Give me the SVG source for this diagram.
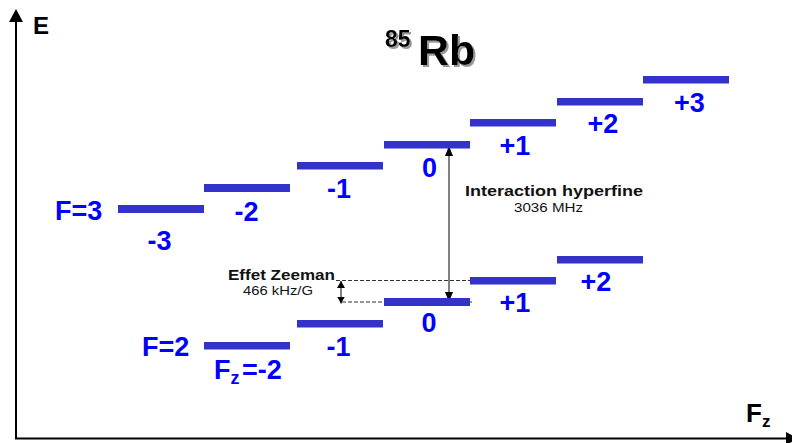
<svg xmlns="http://www.w3.org/2000/svg" width="792" height="443" viewBox="0 0 792 443">
<style>
text{font-family:"Liberation Sans",Arial,sans-serif}
.lvl{fill:#3333CC}
.lab{fill:#0000FF;font-weight:bold;font-size:27px;text-anchor:middle}
.labs{fill:#0000FF;font-weight:bold;font-size:27px}
.ax{stroke:#000;stroke-width:2;fill:none}
.thin{stroke:#000;stroke-width:1;fill:none}
.dash{stroke:#333;stroke-width:1;stroke-dasharray:4 2;fill:none}
.blk{fill:#000}
</style>
<defs>
<filter id="shadow" x="-10%" y="-10%" width="130%" height="130%">
<feDropShadow dx="2" dy="2" stdDeviation="0.6" flood-color="#999" flood-opacity="1"/>
</filter>
<marker id="ah" markerUnits="userSpaceOnUse" markerWidth="10" markerHeight="10" viewBox="0 0 10 10" refX="10" refY="5" orient="auto-start-reverse">
<path d="M0,1 L10,5 L0,9 Z" fill="#000"/>
</marker>
<marker id="ahs" markerUnits="userSpaceOnUse" markerWidth="7" markerHeight="8" viewBox="0 0 7 8" refX="7" refY="4" orient="auto-start-reverse">
<path d="M0,0 L7,4 L0,8 Z" fill="#000"/>
</marker>
</defs>
<rect width="792" height="443" fill="#fff"/>

<g id="axes">
<line class="ax" x1="16" y1="20" x2="16" y2="439"/>
<polygon class="blk" points="9,22 16,9 23,22"/>
<line class="ax" x1="15" y1="438.5" x2="790" y2="438.5"/>
<polygon class="blk" points="786,432 798,438.5 786,445"/>
<text x="33" y="34" font-size="24" font-weight="bold" fill="#000">E</text>
<text x="746" y="422" font-size="26" font-weight="bold" fill="#000">F<tspan font-size="17" dy="5">z</tspan></text>
</g>

<g id="title" filter="url(#shadow)">
<text x="385" y="65" font-weight="bold" fill="#000"><tspan font-size="23" dy="-18">85</tspan><tspan x="418" dy="18" font-size="43">Rb</tspan></text>
</g>

<g id="connectors">
<line class="dash" x1="336" y1="280.5" x2="470" y2="280.5"/>
<line class="dash" x1="342" y1="302" x2="472" y2="302"/>
<line class="thin" x1="449" y1="146" x2="449" y2="302" marker-start="url(#ah)" marker-end="url(#ah)"/>
<line class="thin" x1="341" y1="281" x2="341" y2="303.5" marker-start="url(#ahs)" marker-end="url(#ahs)"/>
</g>

<g id="F3">
<text class="labs" x="55" y="220">F=3</text>
<g id="F3m-3"><rect class="lvl" x="118" y="205" width="86" height="8"/><text class="lab" x="159.5" y="250">-3</text></g>
<g id="F3m-2"><rect class="lvl" x="204" y="184" width="86" height="8"/><text class="lab" x="246.5" y="221">-2</text></g>
<g id="F3m-1"><rect class="lvl" x="297" y="162" width="86" height="7.5"/><text class="lab" x="339" y="198">-1</text></g>
<g id="F3m0"><rect class="lvl" x="384" y="141" width="86" height="7.5"/><text class="lab" x="429.5" y="177">0</text></g>
<g id="F3m1"><rect class="lvl" x="470" y="119" width="86" height="7.5"/><text class="lab" x="515" y="155">+1</text></g>
<g id="F3m2"><rect class="lvl" x="557" y="98" width="86" height="7.5"/><text class="lab" x="603" y="133">+2</text></g>
<g id="F3m3"><rect class="lvl" x="643" y="76" width="86" height="7.5"/><text class="lab" x="689.5" y="112">+3</text></g>
</g>

<g id="F2">
<text class="labs" x="142" y="356">F=2</text>
<g id="F2m-2"><rect class="lvl" x="204" y="342" width="86" height="7.5"/><text class="labs" x="214" y="379">F<tspan font-size="18" dy="5">z</tspan><tspan x="242" dy="-5">=-2</tspan></text></g>
<g id="F2m-1"><rect class="lvl" x="297" y="320" width="86" height="7.5"/><text class="lab" x="338.5" y="356">-1</text></g>
<g id="F2m0"><rect class="lvl" x="384" y="298" width="86" height="8"/><text class="lab" x="429" y="332">0</text></g>
<g id="F2m1"><rect class="lvl" x="470" y="277" width="86" height="7.5"/><text class="lab" x="515" y="312">+1</text></g>
<g id="F2m2"><rect class="lvl" x="557" y="256" width="86" height="7.5"/><text class="lab" x="596" y="291">+2</text></g>
</g>

<g id="hyperfine-label">
<text x="465" y="196" font-size="15" font-weight="bold" fill="#111" textLength="178" lengthAdjust="spacingAndGlyphs">Interaction hyperfine</text>
<text x="514" y="212" font-size="12" fill="#111" textLength="69" lengthAdjust="spacingAndGlyphs">3036 MHz</text>
</g>
<g id="zeeman-label">
<text x="228" y="280" font-size="14" font-weight="bold" fill="#111" textLength="107" lengthAdjust="spacingAndGlyphs">Effet Zeeman</text>
<text x="243" y="295" font-size="12" fill="#111" textLength="70" lengthAdjust="spacingAndGlyphs">466 kHz/G</text>
</g>
</svg>
